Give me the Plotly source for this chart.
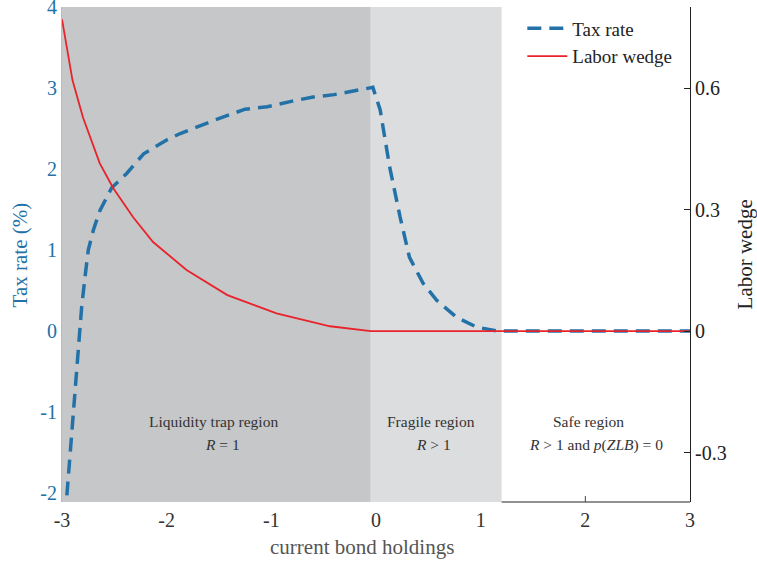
import plotly.graph_objects as go

# Tax rate (%) — left axis
tax_x = [-2.97, -2.952, -2.914, -2.898, -2.87, -2.844, -2.812, -2.78, -2.749, -2.70, -2.637,
         -2.525, -2.38, -2.22, -2.0, -1.87, -1.6, -1.49, -1.25, -1.04, -0.8, -0.6, -0.4,
         -0.22, -0.03, 0.04, 0.13, 0.23, 0.32, 0.45, 0.58, 0.77, 0.96, 1.16, 1.5, 2.0, 2.5, 3.0]
tax_y = [-2.3, -2.0, -1.35, -1.0, -0.55, -0.19, 0.3, 0.67, 1.0, 1.25, 1.49,
         1.77, 1.95, 2.19, 2.36, 2.44, 2.58, 2.63, 2.74, 2.77, 2.84, 2.89, 2.92,
         2.96, 3.01, 2.73, 2.03, 1.41, 0.91, 0.59, 0.38, 0.17, 0.05, 0.0, 0.0, 0.0, 0.0, 0.0]

# Labor wedge — right axis
wedge_x = [-3.0, -2.9, -2.8, -2.71, -2.64, -2.51, -2.32, -2.13, -1.81, -1.42, -0.95,
           -0.44, -0.05, 0.5, 1.0, 1.5, 2.0, 2.5, 3.0]
wedge_y = [0.77, 0.62, 0.528, 0.464, 0.415, 0.353, 0.281, 0.22, 0.151, 0.089, 0.044,
           0.012, 0.0, 0.0, 0.0, 0.0, 0.0, 0.0, 0.0]

x_ticks = [-3, -2, -1, 0, 1, 2, 3]
x_ticktext = ["-3", "-2", "-1", "0", "1", "2", "3"]
left_ticks = [-2, -1, 0, 1, 2, 3, 4]
left_ticktext = ["-2", "-1", "0", "1", "2", "3", "4"]
right_ticks = [-0.3, 0, 0.3, 0.6]
right_ticktext = ["-0.3", "0", "0.3", "0.6"]

# Regions
trap_bounds = [-3.0, -0.05]
fragile_bounds = [-0.05, 1.2]

FONT = "Liberation Serif"
BLUE = "#2272a8"
RED = "#e8232b"

fig = go.Figure()
fig.add_trace(go.Scatter(x=tax_x, y=tax_y, mode="lines", name="Tax rate",
                         line=dict(color=BLUE, width=3.5, dash="14px,8px")))
fig.add_trace(go.Scatter(x=wedge_x, y=wedge_y, mode="lines", name="Labor wedge",
                         yaxis="y2", line=dict(color=RED, width=1.8)))

shapes = [
    dict(type="rect", xref="x", yref="paper", x0=trap_bounds[0], x1=trap_bounds[1],
         y0=0, y1=1, fillcolor="#c6c7c9", line=dict(width=0), layer="below"),
    dict(type="rect", xref="x", yref="paper", x0=fragile_bounds[0], x1=fragile_bounds[1],
         y0=0, y1=1, fillcolor="#dcdddf", line=dict(width=0), layer="below"),
    dict(type="line", xref="x", yref="paper", x0=fragile_bounds[1], x1=3, y0=0, y1=0,
         line=dict(color="#222", width=1)),
    dict(type="line", xref="x", yref="paper", x0=2, x1=2, y0=0, y1=0.012,
         line=dict(color="#444", width=1)),
]

LAB = dict(family=FONT, size=15.5, color="#333")
annotations = [
    dict(x=-1.55, y=-1.11, xref="x", yref="y", text="Liquidity trap region", showarrow=False, font=LAB),
    dict(x=-1.47, y=-1.40, xref="x", yref="y", text="<i>R</i> = 1", showarrow=False, font=LAB),
    dict(x=0.53, y=-1.11, xref="x", yref="y", text="Fragile region", showarrow=False, font=LAB),
    dict(x=0.55, y=-1.40, xref="x", yref="y", text="<i>R</i> > 1", showarrow=False, font=LAB),
    dict(x=2.03, y=-1.11, xref="x", yref="y", text="Safe region", showarrow=False, font=LAB),
    dict(x=2.1, y=-1.40, xref="x", yref="y", text="<i>R</i> > 1 and <i>p</i>(<i>ZLB</i>) = 0",
         showarrow=False, font=LAB),
    dict(xref="paper", yref="paper", x=-0.067, y=0.5, text="Tax rate (%)", textangle=-90,
         showarrow=False, font=dict(family=FONT, size=21, color=BLUE), xanchor="center"),
    dict(xref="paper", yref="paper", x=1.0875, y=0.5, text="Labor wedge", textangle=-90,
         showarrow=False, font=dict(family=FONT, size=21, color="#222"), xanchor="center"),
    dict(xref="paper", yref="paper", x=0.477, y=-0.09, text="current bond holdings",
         showarrow=False, font=dict(family=FONT, size=21, color="#555"), yanchor="middle"),
]

fig.update_layout(
    width=757, height=562,
    margin=dict(l=62, r=67, t=7, b=60),
    paper_bgcolor="white", plot_bgcolor="white",
    font=dict(family=FONT, size=20, color="#222"),
    showlegend=True,
    legend=dict(x=0.733, y=0.995, xanchor="left", yanchor="top", bgcolor="rgba(0,0,0,0)",
                font=dict(family=FONT, size=19, color="#222"), tracegroupgap=0,
                itemwidth=40),
    xaxis=dict(range=[-3, 3], tickvals=x_ticks, ticktext=x_ticktext, showgrid=False,
               zeroline=False, showline=False, ticks="", ticklabelstandoff=4, automargin=False,
               tickfont=dict(family=FONT, size=20, color="#333")),
    yaxis=dict(range=[-2.11, 4.002], tickvals=left_ticks, ticktext=left_ticktext,
               showgrid=False, zeroline=False, showline=True, linecolor="#9ec3dc",
               linewidth=1, ticks="", ticklabeloverflow="allow", automargin=False,
               tickfont=dict(family=FONT, size=20, color=BLUE)),
    yaxis2=dict(range=[-0.422, 0.8004], overlaying="y", side="right", tickvals=right_ticks,
                ticktext=right_ticktext, showgrid=False, zeroline=False, showline=True,
                linecolor="#222", linewidth=1, ticks="inside", ticklen=6, tickcolor="#222",
                automargin=False, tickfont=dict(family=FONT, size=20, color="#222")),
    shapes=shapes,
    annotations=annotations,
)

fig.write_html("out.html", config={"displayModeBar": False},
               post_script="document.body.style.margin='0';document.body.style.overflow='hidden';")
